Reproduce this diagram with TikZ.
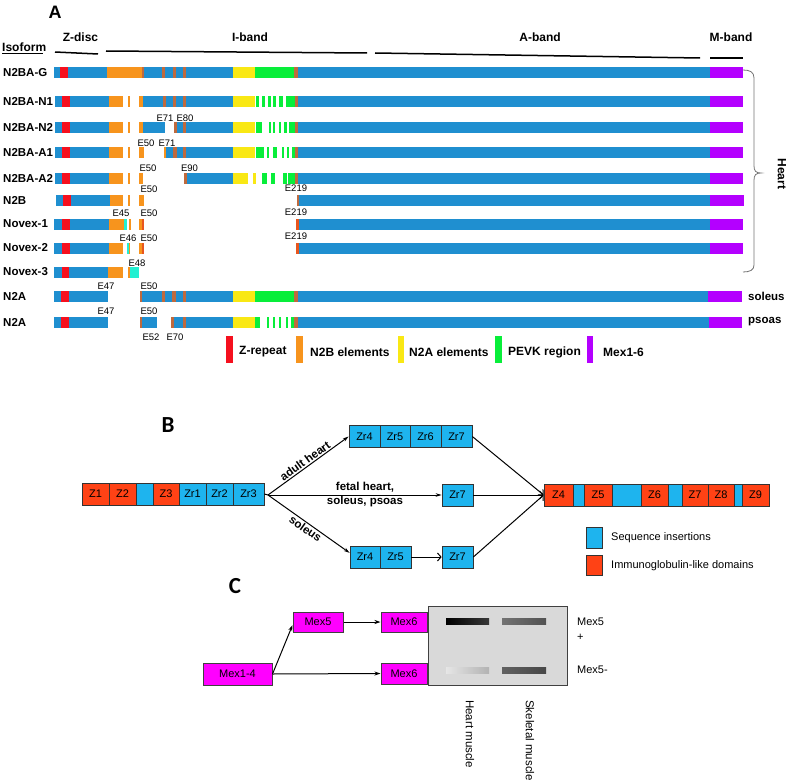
\documentclass[tikz,border=0pt]{standalone}
\usepackage{fontspec}
\setmainfont{Liberation Sans}
\newfontfamily\calib{Carlito}
\usetikzlibrary{arrows.meta,calc}
\definecolor{tblue}{HTML}{1F8FD0}
\definecolor{tred}{HTML}{F5101E}
\definecolor{torange}{HTML}{F7941D}
\definecolor{tdorange}{HTML}{E8561E}
\definecolor{tyellow}{HTML}{F9E814}
\definecolor{tgreen}{HTML}{08EE3A}
\definecolor{tpurple}{HTML}{B400FF}
\definecolor{tbrown}{HTML}{BF6A3E}
\definecolor{tcyan}{HTML}{22F0D2}
\definecolor{bred}{HTML}{FF4215}
\definecolor{bblue}{HTML}{1EB4EE}
\definecolor{mag}{HTML}{FF00FF}
\definecolor{gel}{HTML}{D9D9D9}
\newcommand{\segm}[3]{\fill[#3] (#1,\ry-5.5) rectangle (#2,\ry+5.5);}
\newcommand{\bx}[6]{\node[bb, fill=#5, minimum width={#3-#2}] (#1) at ({(#2+#3)/2},#4) {#6};}
\tikzset{
 rlab/.style={font=\bfseries\fontsize{11.5}{12}\selectfont, anchor=west, inner sep=0},
 elab/.style={font=\fontsize{9.5}{10}\selectfont, inner sep=0},
 hlab/.style={font=\bfseries\fontsize{12}{13}\selectfont, inner sep=0},
 bb/.style={draw=black!80, line width=0.7pt, inner sep=0, font=\fontsize{11}{12}\selectfont, minimum height=22pt},
 blab/.style={font=\bfseries\fontsize{11.5}{12}\selectfont, inner sep=1pt},
 arr/.style={line width=1pt, -{Stealth[length=6pt,width=3.5pt]}},
 arrb/.style={line width=1pt, -{Straight Barb[length=3.5pt,width=8pt]}},
 mbox/.style={draw=black!75, fill=mag, line width=1pt, inner sep=0, font=\fontsize{11}{12}\selectfont},
 carr/.style={line width=1pt, -{Stealth[length=6pt,width=4pt]}},
 clab/.style={font=\fontsize{11}{12}\selectfont, inner sep=0},
 panel/.style={font=\calib\bfseries\fontsize{23}{24}\selectfont, inner sep=0}
}
\begin{document}
\begin{tikzpicture}[x=1pt,y=-1pt]
\useasboundingbox (0,0) rectangle (787,784);
% ---------------- Panel A header
\node[font=\bfseries\fontsize{18}{19}\selectfont, inner sep=0] (pA) at (55,12) {A};
\node[hlab] (zd) at (80.5,37) {Z-disc};
\node[hlab] (ib) at (250,37) {I-band};
\node[hlab] (ab) at (540,37) {A-band};
\node[hlab] (mb) at (731,37) {M-band};
\node[hlab, anchor=west] (iso) at (2,47) {Isoform};
\draw[line width=1pt] (2,53.5) -- (43,53.5);
\draw[line width=1.5pt] (55,52) -- (98,54);
\draw[line width=1.5pt] (106,51) -- (367,53);
\draw[line width=1.5pt] (375,53) -- (700,58);
\draw[line width=1.5pt] (710,58) -- (743,58);
% ---------------- rows
% N2BA-G
\def\ry{73}
\segm{54}{60}{tblue}\segm{60}{68}{tred}\segm{68}{107}{tblue}\segm{107}{142}{torange}\segm{142}{233}{tblue}
\segm{142}{143.5}{tbrown}\segm{162}{165}{tbrown}\segm{172.5}{175.5}{tbrown}\segm{183}{186}{tbrown}
\segm{233}{255}{tyellow}\segm{255}{294}{tgreen}\segm{294}{297.5}{tbrown}\segm{297.5}{710}{tblue}\segm{710}{743}{tpurple}
\node[rlab] (l1) at (3,\ry) {N2BA-G};
% N2BA-N1
\def\ry{101}
\segm{54.5}{62}{tblue}\segm{62}{70}{tred}\segm{70}{109}{tblue}\segm{109}{123}{torange}\segm{128}{130}{torange}\segm{139}{143}{torange}
\segm{143}{233}{tblue}\segm{163}{166}{tbrown}\segm{173}{176}{tbrown}\segm{183}{186}{tbrown}\segm{233}{255}{tyellow}
\segm{256}{259}{tgreen}\segm{262}{264.5}{tgreen}\segm{268}{271}{tgreen}\segm{273}{276}{tgreen}\segm{279}{283}{tgreen}\segm{286}{295}{tgreen}
\segm{295}{298}{tbrown}\segm{298}{710}{tblue}\segm{710}{743}{tpurple}
\node[rlab] (l2) at (3,\ry) {N2BA-N1};
% N2BA-N2
\def\ry{127}
\segm{54.5}{62}{tblue}\segm{62}{70}{tred}\segm{70}{109}{tblue}\segm{109}{123}{torange}\segm{128}{130}{torange}\segm{139}{143}{torange}
\segm{143}{165}{tblue}\segm{174}{233}{tblue}\segm{174}{177}{tbrown}\segm{183}{186}{tbrown}\segm{233}{255}{tyellow}
\segm{256}{262}{tgreen}\segm{269}{271}{tgreen}\segm{273}{275}{tgreen}\segm{279}{281}{tgreen}\segm{284}{287}{tgreen}\segm{289}{295}{tgreen}
\segm{295}{298}{tbrown}\segm{298}{710}{tblue}\segm{710}{743}{tpurple}
\node[rlab] (l3) at (3,\ry) {N2BA-N2};
\node[elab] (e71a) at (165,118) {E71};
\node[elab] (e80) at (185,118) {E80};
% N2BA-A1
\def\ry{152}
\segm{54.5}{62}{tblue}\segm{62}{70}{tred}\segm{70}{109}{tblue}\segm{109}{123}{torange}\segm{128}{130}{torange}\segm{139}{144}{torange}
\segm{164}{233}{tblue}\segm{164}{166}{torange}\segm{173}{177}{tbrown}\segm{183}{186}{tbrown}\segm{233}{255}{tyellow}
\segm{256}{264}{tgreen}\segm{267}{268.5}{tgreen}\segm{273}{277}{tgreen}\segm{282}{283.5}{tgreen}\segm{287}{289}{tgreen}\segm{292}{295}{tgreen}
\segm{295}{298}{tbrown}\segm{298}{710}{tblue}\segm{710}{743}{tpurple}
\node[rlab] (l4) at (3,\ry) {N2BA-A1};
\node[elab] (e50a) at (146,143) {E50};
\node[elab] (e71b) at (167,143) {E71};
% N2BA-A2
\def\ry{178}
\segm{54.5}{62}{tblue}\segm{62}{70}{tred}\segm{70}{109}{tblue}\segm{109}{123}{torange}\segm{128}{130}{torange}\segm{139}{143}{torange}
\segm{184}{233}{tblue}\segm{184}{187}{tbrown}\segm{233}{248}{tyellow}\segm{253}{255.5}{tyellow}
\segm{262}{266.5}{tgreen}\segm{271}{274.5}{tgreen}\segm{283}{287}{tgreen}\segm{288}{295}{tgreen}
\segm{295}{298}{tbrown}\segm{298}{710}{tblue}\segm{710}{743}{tpurple}
\node[rlab] (l5) at (3,\ry) {N2BA-A2};
\node[elab] (e50b) at (148,168) {E50};
\node[elab] (e90) at (189.5,168) {E90};
% N2B
\def\ry{200.5}
\segm{56}{63}{tblue}\segm{63}{71}{tred}\segm{71}{110}{tblue}\segm{110}{123}{torange}\segm{128}{130}{torange}\segm{139}{144}{torange}
\segm{297}{299}{tbrown}\segm{299}{710}{tblue}\segm{710}{744}{tpurple}
\node[rlab] (l6) at (3,\ry) {N2B};
\node[elab] (e50c) at (149,189) {E50};
\node[elab] (e219a) at (296,188) {E219};
% Novex-1
\def\ry{224}
\segm{54}{62}{tblue}\segm{62}{70}{tred}\segm{70}{109}{tblue}\segm{109}{124}{torange}\segm{124}{127}{tcyan}\segm{129}{131}{torange}
\segm{139}{144}{torange}\segm{141.5}{144}{tdorange}
\segm{296}{298.5}{tdorange}\segm{298.5}{710}{tblue}\segm{710}{743}{tpurple}
\node[rlab] (l7) at (3,\ry) {Novex-1};
\node[elab] (e45) at (121,213) {E45};
\node[elab] (e50d) at (149,213) {E50};
\node[elab] (e219b) at (296,212) {E219};
% Novex-2
\def\ry{248}
\segm{54}{62}{tblue}\segm{62}{70}{tred}\segm{70}{109}{tblue}\segm{109}{123}{torange}\segm{127}{128.5}{tcyan}\segm{128.5}{130}{torange}
\segm{139}{144}{torange}\segm{141.5}{144}{tdorange}
\segm{296}{298.5}{tdorange}\segm{298.5}{710}{tblue}\segm{710}{743}{tpurple}
\node[rlab] (l8) at (3,\ry) {Novex-2};
\node[elab] (e46) at (128,238) {E46};
\node[elab] (e50e) at (149,238) {E50};
\node[elab] (e219c) at (296,236) {E219};
% Novex-3
\def\ry{272}
\segm{54}{62}{tblue}\segm{62}{69}{tred}\segm{69}{108}{tblue}\segm{108}{123}{torange}\segm{128}{130}{torange}\segm{130}{139}{tcyan}
\node[rlab] (l9) at (3,\ry) {Novex-3};
\node[elab] (e48) at (137,263) {E48};
% N2A soleus
\def\ry{296}
\segm{54}{61}{tblue}\segm{61}{69}{tred}\segm{69}{107.5}{tblue}\segm{140}{233}{tblue}\segm{140}{142}{tbrown}
\segm{162}{165}{tbrown}\segm{172}{175.5}{tbrown}\segm{183}{186}{tbrown}
\segm{233}{255}{tyellow}\segm{255}{294}{tgreen}\segm{294}{298}{tbrown}\segm{298}{708}{tblue}\segm{708}{742}{tpurple}
\node[rlab] (l10) at (3,\ry) {N2A};
\node[elab] (e47a) at (106,286) {E47};
\node[elab] (e50f) at (149,286) {E50};
\node[rlab] (sol) at (748,\ry) {soleus};
% N2A psoas
\def\ry{322}
\segm{54}{61}{tblue}\segm{61}{69}{tred}\segm{69}{107.5}{tblue}\segm{140}{157}{tblue}\segm{140}{142}{tbrown}
\segm{171}{233}{tblue}\segm{171}{174}{tbrown}\segm{183}{186}{tbrown}\segm{233}{255}{tyellow}
\segm{255}{260}{tgreen}\segm{267}{269}{tgreen}\segm{273}{275}{tgreen}\segm{279}{281}{tgreen}\segm{286}{288}{tgreen}\segm{291}{294}{tgreen}
\segm{294}{298}{tbrown}\segm{298}{709}{tblue}\segm{709}{742}{tpurple}
\node[rlab] (l11) at (3,\ry) {N2A};
\node[elab] (e47b) at (106,311) {E47};
\node[elab] (e50g) at (149,311) {E50};
\node[elab] (e52) at (151,337) {E52};
\node[elab] (e70) at (175,337) {E70};
\node[rlab] (pso) at (748,\ry) {psoas};
% Heart brace
\draw[black!55, line width=0.8pt] (743,70) .. controls (750,70) and (754,72) .. (754,78) -- (754,166)
  .. controls (754,171) and (756,173) .. (761,173) .. controls (756,173) and (754,175) .. (754,180)
  -- (754,265) .. controls (754,270) and (750,272) .. (743,272);
\node[hlab, rotate=-90] (heart) at (782,174) {Heart};
% legend A
\fill[tred] (226,336) rectangle (233,363);
\node[hlab, anchor=west] (lg1) at (239,352) {Z-repeat};
\fill[torange] (296,336) rectangle (303,363);
\node[hlab, anchor=west] (lg2) at (310,352) {N2B elements};
\fill[tyellow] (398,336) rectangle (404,363);
\node[hlab, anchor=west] (lg3) at (409,352) {N2A elements};
\fill[tgreen] (495,336) rectangle (502,363);
\node[hlab, anchor=west] (lg4) at (508,352) {PEVK region};
\fill[tpurple] (587,336) rectangle (593,363);
\node[hlab, anchor=west] (lg5) at (603,352) {Mex1-6};
% ---------------- Panel B
\node[panel] (pB) at (168,425) {B};
\bx{z1}{82}{109}{494}{bred}{Z1}
\bx{z2}{109}{136}{494}{bred}{Z2}
\bx{zi}{136}{153}{494}{bblue}{}
\bx{z3}{153}{179}{494}{bred}{Z3}
\bx{zr1}{179}{206}{494}{bblue}{Zr1}
\bx{zr2}{206}{233}{494}{bblue}{Zr2}
\bx{zr3}{233}{264}{494}{bblue}{Zr3}
\bx{zr4a}{349}{380}{436.5}{bblue}{Zr4}
\bx{zr5a}{380}{410}{436.5}{bblue}{Zr5}
\bx{zr6a}{410}{441}{436.5}{bblue}{Zr6}
\bx{zr7a}{441}{472}{436.5}{bblue}{Zr7}
\bx{zr7b}{442}{473}{495}{bblue}{Zr7}
\bx{zr4c}{350}{380}{557}{bblue}{Zr4}
\bx{zr5c}{380}{411}{557}{bblue}{Zr5}
\bx{zr7c}{442}{473}{557}{bblue}{Zr7}
\bx{z4}{544}{573}{495}{bred}{Z4}
\bx{i1}{573}{584}{495}{bblue}{}
\bx{z5}{584}{612}{495}{bred}{Z5}
\bx{i2}{612}{641}{495}{bblue}{}
\bx{z6}{641}{668}{495}{bred}{Z6}
\bx{i3}{668}{682}{495}{bblue}{}
\bx{z7}{682}{708}{495}{bred}{Z7}
\bx{z8}{708}{734}{495}{bred}{Z8}
\bx{i4}{734}{742}{495}{bblue}{}
\bx{z9}{742}{769}{495}{bred}{Z9}
\coordinate (br) at (268,495);
\draw[line width=1pt] (zr3.east) -- (br);
\draw[arr] (br) -- (zr4a.west) node[midway, sloped, above, blab] {adult heart};
\draw[arr] (br) -- (zr7b.west);
\draw[arr] (br) -- (zr4c.165) node[midway, sloped, below, blab] {soleus};
\node[blab] (fh) at (365,487) {fetal heart,};
\node[blab] (sp) at (365,502) {soleus, psoas};
\draw[arrb] (zr5c.east) -- (zr7c.west);
\draw[arrb] (zr7a.east) -- (z4.west);
\draw[arrb] (zr7b.east) -- (z4.west);
\draw[arrb] (zr7c.east) -- (z4.west);
\node[bb, fill=bblue, minimum width=16pt, minimum height=21pt] (lgb1) at (594,537.5) {};
\node[clab, anchor=west] (lgb1t) at (611,537.5) {Sequence insertions};
\node[bb, fill=bred, minimum width=16pt, minimum height=20pt] (lgb2) at (594,565) {};
\node[clab, anchor=west] (lgb2t) at (611,566) {Immunoglobulin-like domains};
% ---------------- Panel C
\node[panel] (pC) at (235,586) {C};
\node[mbox, minimum width=69pt, minimum height=22pt] (m14) at (237.5,674) {Mex1-4};
\node[mbox, minimum width=50pt, minimum height=20pt] (m5) at (318,622) {Mex5};
\node[mbox, minimum width=46pt, minimum height=20pt] (m6a) at (404,622) {Mex6};
\node[mbox, minimum width=46pt, minimum height=21pt] (m6b) at (404,673.5) {Mex6};
\node[draw=black!75, fill=gel, line width=0.9pt, minimum width=139pt, minimum height=79pt, inner sep=0] (gelbox) at (497.5,645.5) {};
\draw[carr] (m14.east) -- (m5.187);
\draw[carr] (m14.east) -- (m6b.west);
\draw[carr] (m5.east) -- (m6a.west);
\shade[left color=black, right color=black!78] (446,618) rectangle (489,624);
\shade[left color=black!55, right color=black!68] (502,618) rectangle (546,624);
\shade[left color=black!10, right color=black!30] (446,667) rectangle (489,673);
\shade[left color=black!62, right color=black!72] (502,667) rectangle (546,673);
\node[clab, anchor=west] (c1) at (577,622) {Mex5};
\node[clab, anchor=west] (c2) at (577,637) {+};
\node[clab, anchor=west] (c3) at (577,670) {Mex5-};
\node[clab, rotate=-90, anchor=west, font=\fontsize{11.5}{12}\selectfont] (hm) at (470,700) {Heart muscle};
\node[clab, rotate=-90, anchor=west, font=\fontsize{11.5}{12}\selectfont] (sm) at (530,700) {Skeletal muscle};
\end{tikzpicture}
\end{document}
